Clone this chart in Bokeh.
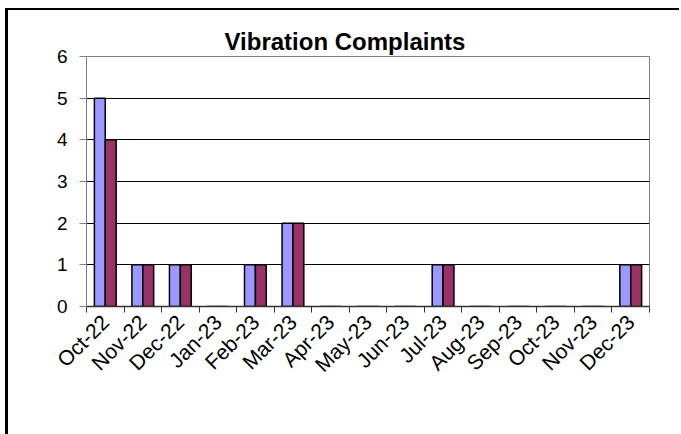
from math import pi
from bokeh.plotting import figure
from bokeh.models import (Range1d, FixedTicker, Legend, LegendItem, ColumnDataSource,
                          CustomJSTickFormatter)
from bokeh.transform import dodge
from bokeh.embed import file_html
from bokeh.resources import INLINE

months = ["Oct-22", "Nov-22", "Dec-22", "Jan-23", "Feb-23", "Mar-23", "Apr-23", "May-23",
          "Jun-23", "Jul-23", "Aug-23", "Sep-23", "Oct-23", "Nov-23", "Dec-23"]
complaints = [5, 1, 1, 0, 1, 2, 0, 0, 0, 1, 0, 0, 0, 0, 1]
complainants = [4, 1, 1, 0, 1, 2, 0, 0, 0, 1, 0, 0, 0, 0, 1]
y_ticks = [0, 1, 2, 3, 4, 5, 6]
title_text = "Vibration Complaints"

FONT = "Liberation Sans"

n = len(months)
centers = [i + 0.5 for i in range(n)]
bounds = list(range(n + 1))

src = ColumnDataSource(dict(x=centers, month=months, complaints=complaints,
                            complainants=complainants))

p = figure(x_range=Range1d(0, n), y_range=Range1d(y_ticks[0], y_ticks[-1]),
           frame_width=563, frame_height=250, output_backend="svg", toolbar_location=None,
           min_border_left=78, min_border_top=46, min_border_right=30, min_border_bottom=0)
p.styles = {"border-left": "3px solid black", "border-top": "2px solid black",
            "margin-left": "5px", "margin-top": "8px"}
p.background_fill_color = "white"
p.border_fill_color = "white"
p.outline_line_color = "#808080"
p.outline_line_width = 1

# title
p.title.text = title_text
p.title.text_font = FONT
p.title.text_font_style = "bold"
p.title.text_font_size = "24px"
p.title.text_color = "black"
p.title.align = "left"
p.title.offset = 138
p.title.standoff = 4

# bars
r1 = p.vbar(x=dodge("x", -0.145), top="complaints", width=0.29, source=src,
            fill_color="#9999FF", line_color="black", line_width=1.5)
r2 = p.vbar(x=dodge("x", 0.145), top="complainants", width=0.29, source=src,
            fill_color="#993366", line_color="black", line_width=1.5)

# y axis
ya = p.yaxis[0]
ya.ticker = FixedTicker(ticks=y_ticks)
ya.major_tick_out = 7
ya.major_tick_in = 0
ya.minor_tick_line_color = None
ya.axis_line_color = "#808080"
ya.major_tick_line_color = "#808080"
ya.major_label_standoff = 12
ya.major_label_text_font = FONT
ya.major_label_text_font_size = "19px"
ya.major_label_text_color = "black"

p.ygrid.ticker = FixedTicker(ticks=y_ticks[1:-1])
p.ygrid.grid_line_color = "black"
p.ygrid.grid_line_width = 1
p.xgrid.visible = False

# x axis: month labels at centres, ticks at category boundaries
xa = p.xaxis[0]
xa.ticker = FixedTicker(ticks=centers, minor_ticks=bounds)
xa.formatter = CustomJSTickFormatter(args=dict(labels=months),
                                     code="return labels[Math.floor(tick)];")
xa.major_tick_out = 0
xa.major_tick_in = 0
xa.major_tick_line_color = None
xa.minor_tick_out = 6
xa.minor_tick_in = 0
xa.minor_tick_line_color = "#333333"
xa.axis_line_color = "#333333"
xa.axis_line_width = 1.5
xa.major_label_orientation = pi / 4
xa.major_label_standoff = 6
xa.major_label_text_font = FONT
xa.major_label_text_font_size = "21px"
xa.major_label_text_color = "black"

legend = Legend(items=[LegendItem(label="Complaints", renderers=[r1]),
                       LegendItem(label="Complainants", renderers=[r2])],
                orientation="horizontal", location=(103, 0),
                border_line_color="black", border_line_width=1,
                background_fill_color="white", background_fill_alpha=1,
                label_text_font=FONT, label_text_font_size="21px",
                glyph_width=16, glyph_height=16, label_standoff=3, spacing=24,
                padding=5, margin=0)
p.add_layout(legend, "below")

open("out.html", "w").write(file_html(p, INLINE))
